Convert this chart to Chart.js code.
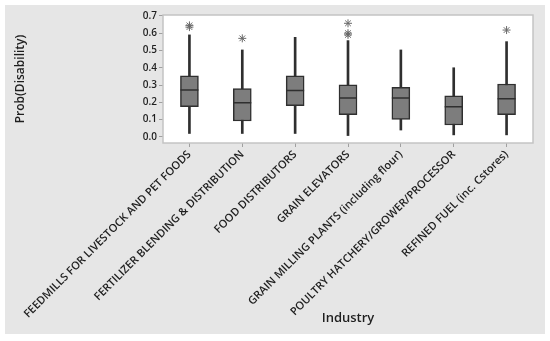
<!DOCTYPE html>
<html>
<head>
<meta charset="utf-8">
<script src="https://cdn.jsdelivr.net/npm/chart.js@4/dist/chart.umd.min.js"></script>
<style>
html,body{margin:0;padding:0;background:#fff;}
#wrap{width:550px;height:341px;position:relative;}
</style>
</head>
<body>
<div id="wrap"><canvas id="c" width="550" height="341"></canvas></div>
<script>
const categories = [
  "FEEDMILLS FOR LIVESTOCK AND PET FOODS",
  "FERTILIZER BLENDING & DISTRIBUTION",
  "FOOD DISTRIBUTORS",
  "GRAIN ELEVATORS",
  "GRAIN MILLING PLANTS (including flour)",
  "POULTRY HATCHERY/GROWER/PROCESSOR",
  "REFINED FUEL (inc. Cstores)"
];
const whiskerLow  = [0.020, 0.020, 0.020, 0.008, 0.040, 0.012, 0.012];
const q1          = [0.175, 0.092, 0.181, 0.129, 0.102, 0.069, 0.129];
const median      = [0.272, 0.198, 0.268, 0.225, 0.225, 0.175, 0.221];
const q3          = [0.353, 0.280, 0.353, 0.302, 0.287, 0.237, 0.306];
const whiskerHigh = [0.590, 0.503, 0.576, 0.557, 0.503, 0.400, 0.551];
const outlierCategory = [categories[0], categories[0], categories[1], categories[3], categories[3], categories[3], categories[6]];
const outlierValue    = [0.635, 0.645, 0.570, 0.657, 0.590, 0.600, 0.618];
const yTicks = [0.0, 0.1, 0.2, 0.3, 0.4, 0.5, 0.6, 0.7];

const textColor = '#1f1f1f';
const fontFam = "'Open Sans', 'DejaVu Sans', sans-serif";

const bgPlugin = {
  id: 'bg',
  beforeDraw(chart) {
    const {ctx, chartArea: a} = chart;
    ctx.save();
    ctx.fillStyle = '#ffffff';
    ctx.fillRect(0, 0, chart.width, chart.height);
    ctx.fillStyle = '#e6e6e6';
    ctx.fillRect(5, 5, 540, 329);
    ctx.fillStyle = '#ffffff';
    ctx.fillRect(a.left, a.top, a.right - a.left, a.bottom - a.top);
    ctx.restore();
  },
  afterDatasetsDraw(chart) {
    const {ctx, chartArea: a} = chart;
    ctx.save();
    ctx.strokeStyle = '#c4c4c4';
    ctx.lineWidth = 1.5;
    ctx.strokeRect(a.left, a.top, a.right - a.left, a.bottom - a.top);
    ctx.restore();
  }
};

new Chart(document.getElementById('c'), {
  data: {
    labels: categories,
    datasets: [
      {
        type: 'bar',
        data: categories.map((c, i) => [whiskerLow[i], whiskerHigh[i]]),
        backgroundColor: '#2f2f2f',
        borderWidth: 0,
        barThickness: 2,
        grouped: false,
        order: 4
      },
      {
        type: 'bar',
        data: categories.map((c, i) => [q1[i], q3[i]]),
        backgroundColor: '#7d7d7d',
        borderColor: '#2f2f2f',
        borderWidth: 1.5,
        borderSkipped: false,
        barThickness: 18,
        grouped: false,
        order: 3
      },
      {
        type: 'line',
        data: median,
        showLine: false,
        pointStyle: 'line',
        pointRadius: 9,
        pointHoverRadius: 9,
        borderColor: '#2f2f2f',
        pointBorderColor: '#2f2f2f',
        pointBorderWidth: 1.5,
        order: 2
      },
      {
        type: 'line',
        data: outlierCategory.map((c, i) => ({x: c, y: outlierValue[i]})),
        showLine: false,
        pointStyle: 'star',
        pointRadius: 4,
        pointHoverRadius: 4,
        pointBorderColor: '#6a6a6a',
        pointBorderWidth: 1,
        order: 1
      }
    ]
  },
  options: {
    responsive: false,
    animation: false,
    events: [],
    layout: {padding: {left: 0, top: 15, right: 17, bottom: 0}},
    plugins: {legend: {display: false}, tooltip: {enabled: false}},
    scales: {
      x: {
        type: 'category',
        offset: true,
        border: {display: false},
        grid: {display: true, drawOnChartArea: false, drawTicks: true, tickLength: 4, color: '#a0a0a0', offset: false},
        ticks: {
          autoSkip: false, minRotation: 45, maxRotation: 45, padding: 1,
          color: textColor, font: {family: fontFam, size: 11, weight: '600'}
        },
        title: {
          display: true, text: 'Industry', color: textColor,
          font: {family: fontFam, size: 13, weight: '600'}, padding: {top: 0, bottom: 15}
        },
        afterFit(s) { s.height = 198; }
      },
      y: {
        type: 'linear',
        min: -0.035,
        max: 0.705,
        border: {display: false},
        grid: {display: true, drawOnChartArea: false, drawTicks: true, tickLength: 4, color: '#a0a0a0'},
        afterBuildTicks(s) { s.ticks = yTicks.map(v => ({value: v})); },
        ticks: {
          padding: 2, color: textColor,
          font: {family: fontFam, size: 10, weight: '600'},
          callback: v => Number(v).toFixed(1)
        },
        title: {
          display: true, text: 'Prob(Disability)', color: textColor,
          font: {family: fontFam, size: 12, weight: '600'}, padding: {top: 13, bottom: 0}
        },
        afterFit(s) { s.width = 163; }
      }
    }
  },
  plugins: [bgPlugin]
});
</script>
</body>
</html>
